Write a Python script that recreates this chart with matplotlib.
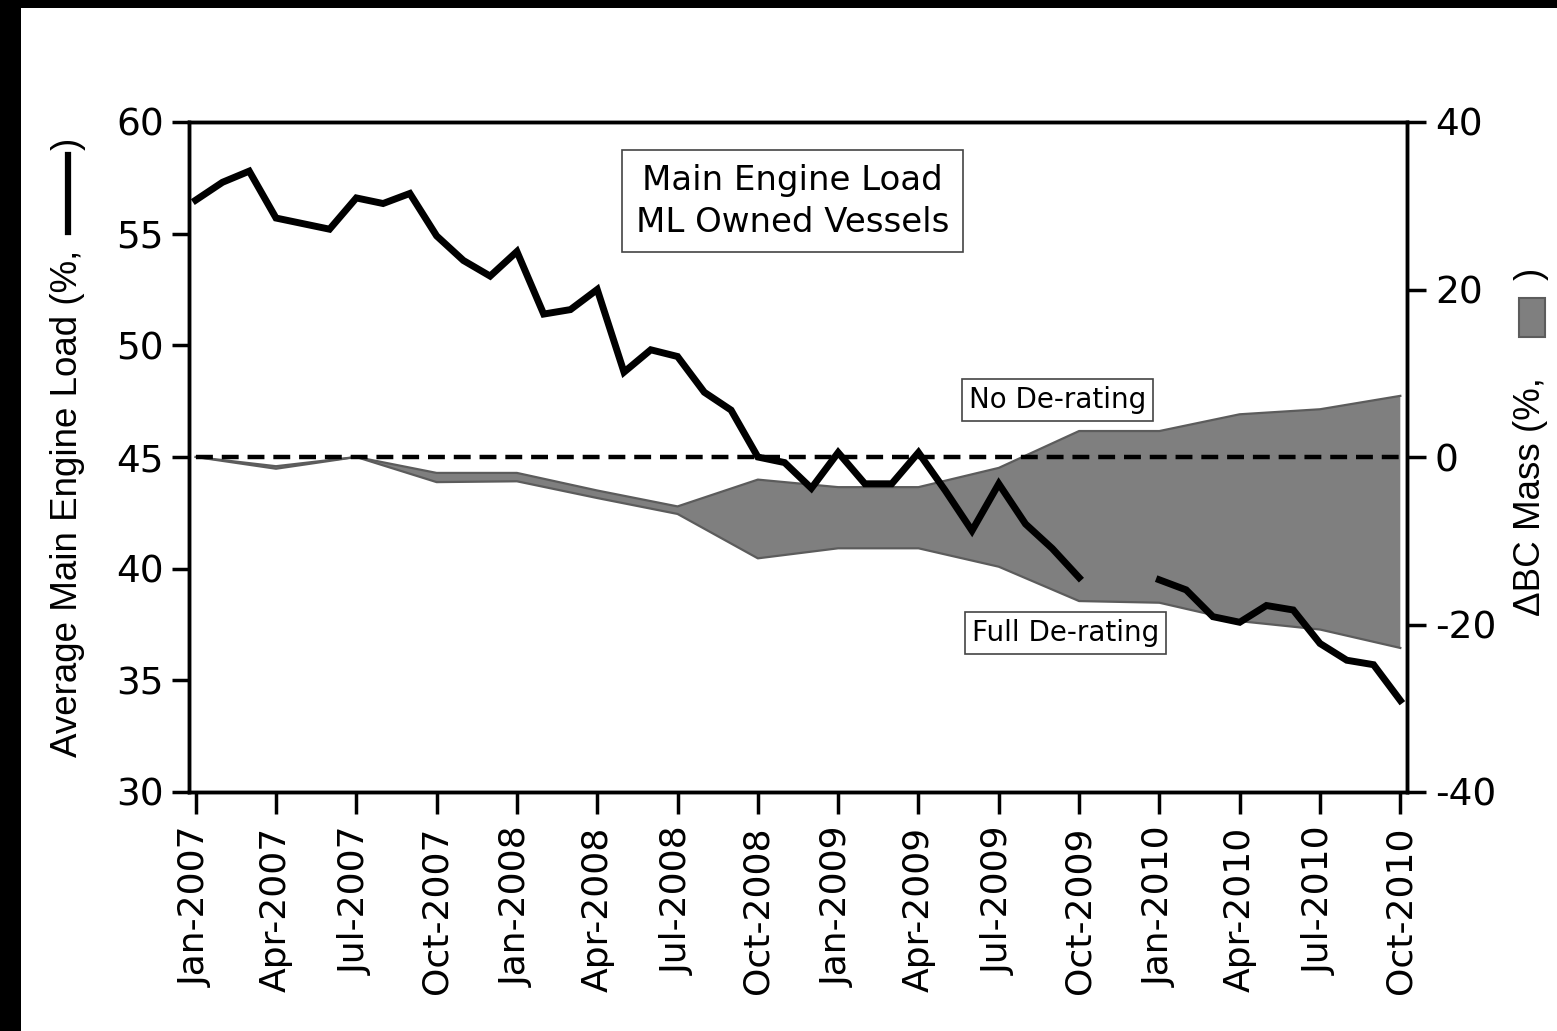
import matplotlib
matplotlib.use("Agg")

import numpy as np
import matplotlib.pyplot as plt
from matplotlib.patches import Rectangle
from matplotlib.lines import Line2D

plt.rcParams["axes.unicode_minus"] = False
plt.rcParams["font.family"] = ["DejaVu Sans"]

# ---- data ----
months = [f"{m}-{y}" for y in range(2007, 2011)
          for m in ["Jan", "Feb", "Mar", "Apr", "May", "Jun",
                    "Jul", "Aug", "Sep", "Oct", "Nov", "Dec"]][:46]

engine_load = [
    56.5, 57.3, 57.8, 55.7, 55.45, 55.2, 56.6, 56.35, 56.8, 54.9, 53.8, 53.1,
    54.2, 51.4, 51.6, 52.5, 48.8, 49.8, 49.5, 47.9, 47.1, 45.0, 44.75, 43.6,
    45.2, 43.8, 43.8, 45.2, 43.5, 41.7, 43.8, 42.0, 40.9, 39.6, np.nan, np.nan,
    39.5, 39.05, 37.85, 37.6, 38.35, 38.15, 36.65, 35.9, 35.7, 34.1,
]

quarters = months[::3]
no_derating = [0, -1.1, 0, -1.9, -1.9, -4.0, -5.9, -2.7,
               -3.6, -3.6, -1.3, 3.1, 3.1, 5.1, 5.7, 7.3]
full_derating = [0, -1.4, 0, -3.0, -2.9, -4.9, -6.8, -12.1,
                 -10.9, -10.9, -13.1, -17.2, -17.4, -19.6, -20.6, -22.8]

x_month = np.arange(len(months))
x_quarter = x_month[::3]

W, H = 1557, 1031
fig = plt.figure(figsize=(W / 100, H / 100), dpi=100)
fig.patch.set_facecolor("black")
fig.patches.append(Rectangle((21 / W, 0), 1 - 21 / W, 1 - 8 / H,
                             transform=fig.transFigure, facecolor="white",
                             edgecolor="none", zorder=-10))

ax = fig.add_axes([189 / W, 1 - 792 / H, (1407 - 189) / W, (792 - 122) / H])
ax2 = ax.twinx()
ax.set_zorder(ax2.get_zorder() + 1)
ax.patch.set_visible(False)

# ---- band (right axis) ----
ax2.fill_between(x_quarter, full_derating, no_derating,
                 facecolor="#7f7f7f", edgecolor="none")
ax2.plot(x_quarter, no_derating, color="#5c5c5c", lw=1.6)
ax2.plot(x_quarter, full_derating, color="#5c5c5c", lw=1.6)
ax2.set_ylim(-40, 40)
ax2.set_yticks([-40, -20, 0, 20, 40])

# ---- engine load (left axis) ----
ax.plot([x_month[0], x_month[-1]], [45, 45], color="black", lw=3.2,
        linestyle=(0, (3.8, 2.0)), zorder=2)
ax.plot(x_month, engine_load, color="black", lw=5, zorder=3,
        solid_joinstyle="miter")
ax.set_ylim(30, 60)
ax.set_yticks([30, 35, 40, 45, 50, 55, 60])
ax.set_xlim(-0.25, 45.25)
ax.set_xticks(x_quarter)
ax.set_xticklabels(quarters, rotation=90)

for a in (ax, ax2):
    for s in a.spines.values():
        s.set_linewidth(2.5)
ax.tick_params(axis="y", direction="out", length=12, width=2.5,
               labelsize=27, pad=6)
ax.tick_params(axis="x", direction="out", length=16, width=2.5,
               labelsize=26, pad=9)
ax2.tick_params(axis="y", direction="out", length=14, width=2.5,
                labelsize=27, pad=6)

# ---- annotations ----
ax.text(22.3, 56.45, "Main Engine Load\nML Owned Vessels", ha="center",
        va="center", fontsize=24.5, linespacing=1.35, zorder=5,
        bbox=dict(boxstyle="square,pad=0.4", fc="white", ec="#444444", lw=1.2))
ax.text(32.2, 47.56, "No De-rating", ha="center", va="center", fontsize=20,
        zorder=5,
        bbox=dict(boxstyle="square,pad=0.25", fc="white", ec="#444444", lw=1.2))
ax.text(32.5, 37.1, "Full De-rating", ha="center", va="center", fontsize=20,
        zorder=5,
        bbox=dict(boxstyle="square,pad=0.25", fc="white", ec="#444444", lw=1.2))

# ---- axis labels with symbols ----
lab = dict(rotation=90, rotation_mode="anchor", va="center",
           fontsize=26.5, family=["Liberation Sans", "DejaVu Sans"])
fig.text(68 / W, 1 - 250 / H, "Average Main Engine Load (%,", ha="right", **lab)
fig.lines.append(Line2D([68 / W, 68 / W], [1 - 232 / H, 1 - 155 / H],
                        transform=fig.transFigure, color="black", lw=4.5))
fig.text(68 / W, 1 - 150 / H, ")", ha="left", **lab)

fig.text(1531 / W, 1 - 377 / H, "\u0394BC Mass (%,", ha="right", **lab)
fig.patches.append(Rectangle((1519 / W, 1 - 337 / H), 26 / W, 39 / H,
                             transform=fig.transFigure, facecolor="#7f7f7f",
                             edgecolor="#5c5c5c", lw=1.5))
fig.text(1531 / W, 1 - 280 / H, ")", ha="left", **lab)

fig.savefig("out.png", dpi=100, facecolor=fig.get_facecolor())
